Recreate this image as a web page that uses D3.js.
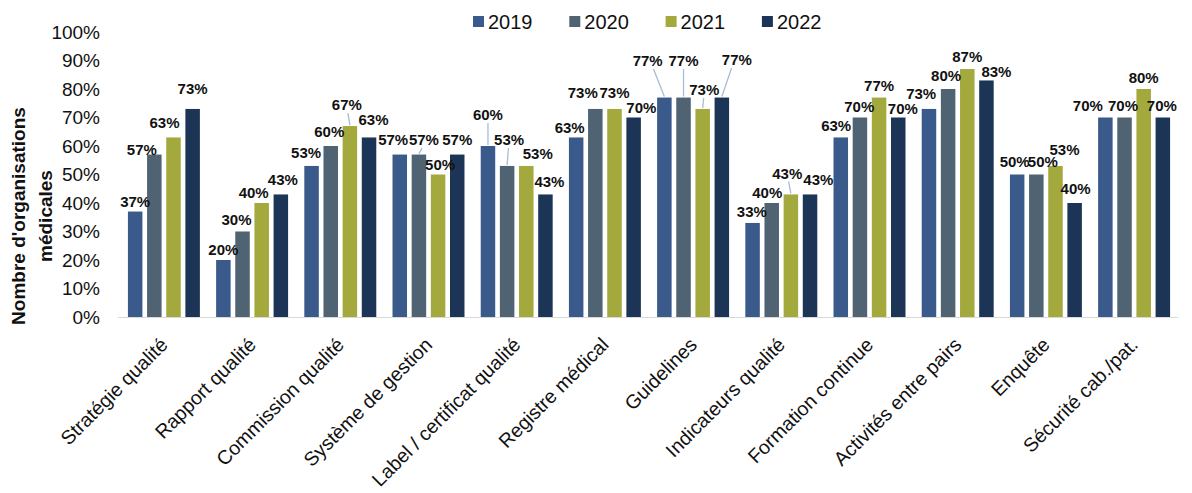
<!DOCTYPE html>
<html><head><meta charset="utf-8">
<script src="https://cdn.jsdelivr.net/npm/d3@7/dist/d3.min.js"></script>
<style>body{margin:0;background:#fff;} svg{display:block;font-family:"Liberation Sans",Arial,sans-serif;}</style>
</head><body>
<svg id="c" width="1192" height="493"></svg>
<script>
const categories = ["Stratégie qualité","Rapport qualité","Commission qualité","Système de gestion","Label / certificat qualité","Registre médical","Guidelines","Indicateurs qualité","Formation continue","Activités entre pairs","Enquête","Sécurité cab./pat."];
const years = ["2019","2020","2021","2022"];
const v2019 = [37,20,53,57,60,63,77,33,63,73,50,70];
const v2020 = [57,30,60,57,53,73,77,40,70,80,50,70];
const v2021 = [63,40,67,50,53,73,73,43,77,87,53,80];
const v2022 = [73,43,63,57,43,70,77,43,70,83,40,70];
const yTicks = [0,10,20,30,40,50,60,70,80,90,100];
const colors = ["#3A5A8C","#4F6373","#A3A93D","#1C3557"];
// label nudges [dx, dy, leader] per category, per year (layout only)
const nudges = [
 [[0,0],[-12.5,5.5],[-9,-5],[0,-10]],
 [[0,0],[-6,-1.5],[-8,0],[2,-4.5]],
 [[-5.5,-3.5],[-1.5,-4.5],[-3,-11,1],[4.5,-7.5]],
 [[-6.6,-4.5],[5,-4.5,1],[2,0.5],[0,-4.5]],
 [[0,-21,1],[2,-16,1],[11.5,-2],[4,-3]],
 [[-6.5,0],[-12.6,-6],[0,-6],[7.7,0]],
 [[-16.7,-26.5,1],[0,-26.5,1],[1.6,-9,1],[15,-27.5,1]],
 [[-0.7,-1.3],[-4.5,0],[-3.6,-11,1],[8.3,-5]],
 [[-4.6,-1.5],[-0.7,-1],[0,-1.5],[4.6,0.8]],
 [[-7.8,-5.7],[-2,-3],[0,-2.3],[10,1]],
 [[-2.5,-3],[6.5,-3],[9,-6],[1,-4.7]],
 [[-17.5,-1.5],[-1.5,-1.5],[0,-1.3],[-1,-1.5]]
];
const series = [v2019,v2020,v2021,v2022];
const svg = d3.select("#c");
const x0 = d3.scaleBand().domain(categories).range([119.8,1178.2]).paddingInner(0.184).paddingOuter(0.092);
const x1 = d3.scaleBand().domain(years).range([0,x0.bandwidth()]).paddingInner(0.243);
const y = d3.scaleLinear().domain([0,100]).range([317,32]);

// y tick labels
svg.append("g").selectAll("text").data(yTicks).join("text")
  .attr("x",100).attr("y",d=>y(d)).attr("dy","0.35em")
  .attr("text-anchor","end").attr("font-size",19).attr("fill","#111")
  .text(d=>d+"%");

// axis line
svg.append("line").attr("x1",x0.range()[0]-2).attr("x2",x0.range()[1]).attr("y1",y(0)+0.5).attr("y2",y(0)+0.5)
  .attr("stroke","#d9d9d9").attr("stroke-width",1.2);

// bars
const cells = [];
categories.forEach((c,i)=>years.forEach((yr,j)=>cells.push({c,i,yr,j,v:series[j][i]})));
svg.append("g").selectAll("rect").data(cells).join("rect")
  .attr("x",d=>x0(d.c)+x1(d.yr)).attr("width",x1.bandwidth())
  .attr("y",d=>y(d.v)).attr("height",d=>y(0)-y(d.v))
  .attr("fill",d=>colors[d.j]);

// leader lines and labels
const lab = svg.append("g");
cells.forEach(d=>{
  const n = nudges[d.i][d.j];
  const bx = x0(d.c)+x1(d.yr)+x1.bandwidth()/2;
  const top = y(d.v);
  const cx = bx + n[0], cy = top - 10 + n[1];
  if(n[2]){
    lab.append("line").attr("x1",cx+(bx-cx)*0.35).attr("y1",cy+8).attr("x2",bx).attr("y2",top-1)
      .attr("stroke","#a9bcd6").attr("stroke-width",1.3);
  }
  lab.append("text").attr("x",cx).attr("y",cy+5.4).attr("text-anchor","middle")
    .attr("font-size",15).attr("font-weight","bold").attr("fill","#111").text(d.v+"%");
});

// x labels
svg.append("g").selectAll("text").data(categories).join("text")
  .attr("transform",d=>`translate(${x0(d)+x0.bandwidth()/2+5},${y(0)+29}) rotate(-45)`)
  .attr("text-anchor","end").attr("font-size",19.6).attr("fill","#111").text(d=>d);

// y title
const yt = svg.append("text").attr("transform","translate(0,216) rotate(-90)")
  .attr("text-anchor","middle").attr("font-size",19).attr("font-weight","bold").attr("fill","#111");
yt.append("tspan").attr("x",0).attr("y",25).text("Nombre d'organisations");
yt.append("tspan").attr("x",0).attr("y",52).text("médicales");

// legend
const lg = svg.append("g").selectAll("g").data(years).join("g")
  .attr("transform",(d,i)=>`translate(${473+i*96.3},0)`);
lg.append("rect").attr("x",0).attr("y",16).attr("width",11).attr("height",11).attr("fill",(d,i)=>colors[i]);
lg.append("text").attr("x",15).attr("y",29).attr("font-size",20).attr("fill","#111").text(d=>d);
</script>
</body></html>
